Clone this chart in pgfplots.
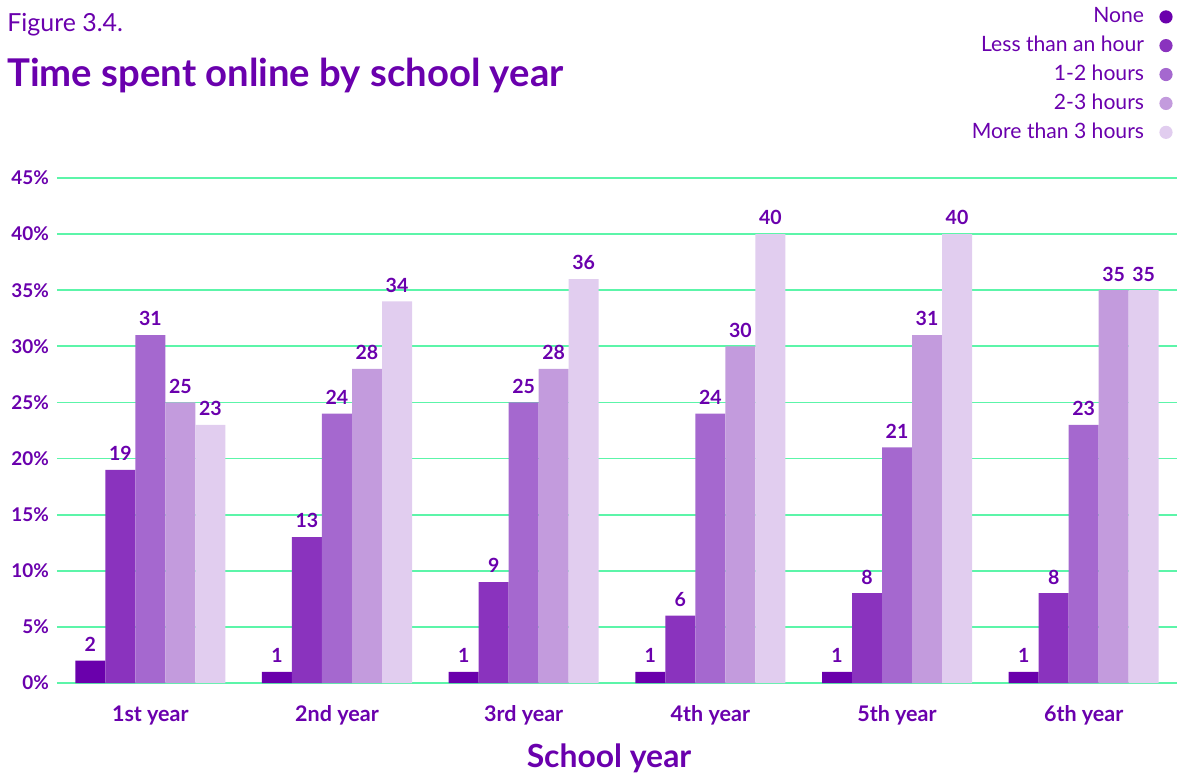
\documentclass[border=0pt]{standalone}
\usepackage{pgfplots}
\pgfplotsset{compat=1.18}
\usepackage{fontspec}
\setmainfont{Lato}
\definecolor{txt}{HTML}{6A00AD}
\definecolor{grn}{HTML}{5CF5A9}
\definecolor{cA}{HTML}{6A00AC}
\definecolor{cB}{HTML}{8A33BE}
\definecolor{cC}{HTML}{A568CF}
\definecolor{cD}{HTML}{C39BDD}
\definecolor{cE}{HTML}{E1CDEF}
\begin{document}
\begin{tikzpicture}
% 1 px of the reference = 0.5bp, axis origin at (0,0)
\useasboundingbox (-28.5bp,-46bp) rectangle (561.5bp,341.5bp);
\begin{axis}[
  at={(0,0)},anchor=south west,
  scale only axis,width=560bp,height=252.5bp,
  xmin=-0.5,xmax=5.5,ymin=0,ymax=45,
  ybar=0pt,bar width=15bp,
  xtick={0,...,5},
  xticklabels={1st year,2nd year,3rd year,4th year,5th year,6th year},
  extra x ticks={-0.5,0.5,...,5.5},extra x tick labels={},
  extra x tick style={major tick length=6bp,tick align=inside,
    tick style={grn,line width=1pt}},
  major x tick style={draw=none},
  ytick={0,5,...,45},
  yticklabel={\pgfmathprintnumber{\tick}\%},
  major y tick style={draw=none},
  ymajorgrids,grid style={grn,line width=0.9pt},
  separate axis lines,
  axis x line*=bottom,
  x axis line style={grn,line width=1.2pt,-},
  y axis line style={draw=none},
  tick label style={text=txt},
  xticklabel style={font=\bfseries\fontsize{10.8}{12}\selectfont,yshift=-3.5bp},
  yticklabel style={font=\bfseries\fontsize{9.5}{10}\selectfont,xshift=-0.5bp},
  /pgf/number format/assume math mode=true,
  nodes near coords,
  nodes near coords style={font=\bfseries\fontsize{9.8}{10}\selectfont,text=txt,anchor=south,yshift=1bp},
  legend plot pos=right,
  legend cell align=right,
  legend style={at={(1,1)},anchor=south east,xshift=-2bp,yshift=16bp,
    draw=none,fill=none,font=\fontsize{10.6}{12}\selectfont,text=txt,
    row sep=1.2bp,inner sep=0pt},
  clip=false
]
\addplot[fill=cA,draw=none,legend image code/.code={\path (0,0); \fill[cA] (9bp,0) circle (3.3bp);}]
  coordinates {(0,2) (1,1) (2,1) (3,1) (4,1) (5,1)};
\addplot[fill=cB,draw=none,legend image code/.code={\path (0,0); \fill[cB] (9bp,0) circle (3.3bp);}]
  coordinates {(0,19) (1,13) (2,9) (3,6) (4,8) (5,8)};
\addplot[fill=cC,draw=none,legend image code/.code={\path (0,0); \fill[cC] (9bp,0) circle (3.3bp);}]
  coordinates {(0,31) (1,24) (2,25) (3,24) (4,21) (5,23)};
\addplot[fill=cD,draw=none,legend image code/.code={\path (0,0); \fill[cD] (9bp,0) circle (3.3bp);}]
  coordinates {(0,25) (1,28) (2,28) (3,30) (4,31) (5,35)};
\addplot[fill=cE,draw=none,legend image code/.code={\path (0,0); \fill[cE] (9bp,0) circle (3.3bp);}]
  coordinates {(0,23) (1,34) (2,36) (3,40) (4,40) (5,35)};
\legend{None,Less than an hour,1-2 hours,2-3 hours,More than 3 hours}
\end{axis}
\node[anchor=base west,inner sep=0pt,text=txt,font=\fontsize{12.5}{14}\selectfont] at (-25bp,325.5bp) {Figure 3.4.};
\node[anchor=base west,inner sep=0pt,text=txt,font=\bfseries\fontsize{19.2}{22}\selectfont] at (-25bp,298bp) {Time spent online by school year};
\node[anchor=base,inner sep=0pt,text=txt,font=\bfseries\fontsize{16}{18}\selectfont] at (276bp,-42bp) {School year};
\end{tikzpicture}
\end{document}
